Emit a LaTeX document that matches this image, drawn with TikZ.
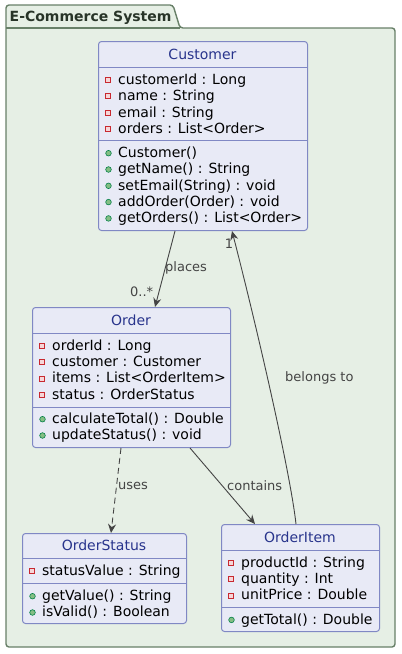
\documentclass[tikz,border=0pt]{standalone}
\usepackage{fontspec}
\setmainfont{DejaVu Sans}
\usetikzlibrary{arrows.meta,calc}
\definecolor{pkgfill}{RGB}{230,239,229}
\definecolor{pkgdraw}{RGB}{104,128,104}
\definecolor{pkgtext}{RGB}{40,52,40}
\definecolor{clsfill}{RGB}{232,234,246}
\definecolor{clsdraw}{RGB}{128,136,196}
\definecolor{clstitle}{RGB}{40,52,140}
\definecolor{privdraw}{RGB}{200,41,48}
\definecolor{privfill}{RGB}{246,214,216}
\definecolor{pubdraw}{RGB}{3,128,72}
\definecolor{pubfill}{RGB}{132,190,132}
\definecolor{edgecol}{RGB}{68,68,68}
\tikzset{
 classbox/.style={draw=clsdraw, fill=clsfill, rounded corners=3pt, line width=1pt, anchor=north west, inner sep=0pt},
 ctitle/.style={text=clstitle, font=\fontsize{14}{16}\selectfont, anchor=base, inner sep=0pt},
 member/.style={font=\fontsize{14}{16}\selectfont, anchor=base west, inner sep=0pt, text=black},
 sepline/.style={draw=clsdraw, line width=1pt},
 privicon/.style={draw=privdraw, fill=privfill, line width=0.8pt},
 pubicon/.style={draw=pubdraw, fill=pubfill, line width=0.6pt},
 edge/.style={draw=edgecol, line width=0.9pt},
 arr/.style={-{Stealth[length=9pt,width=8pt,inset=3pt]}},
 elabel/.style={font=\fontsize{13}{15}\selectfont, text=edgecol, inner sep=0pt},
}
\newcommand\privmem[4]{%
 \draw[privicon] ({#2-12.3},{#3-7}) rectangle ({#2-7.3},{#3-2});
 \node[member] (#1) at (#2,#3) {#4};}
\newcommand\pubmem[4]{%
 \draw[pubicon] ({#2-9.5},{#3-4.3}) circle (2.8pt);
 \node[member] (#1) at (#2,#3) {#4};}
\begin{document}
\begin{tikzpicture}[x=1pt,y=-1pt]
\useasboundingbox (0,0) rectangle (402,654);
% package
\draw[pkgdraw, fill=pkgfill, line width=1.4pt, rounded corners=3pt]
  (6,647) -- (6,5) -- (173,5) -- (180,28) -- (395,28) -- (395,647) -- cycle;
\draw[pkgdraw, line width=1.4pt] (6,28) -- (180,28);
\node[font=\bfseries\fontsize{14}{16}\selectfont, text=pkgtext, anchor=base west, inner sep=0pt] (pkg) at (9.5,21) {E-Commerce System};

% Customer
\node[classbox, minimum width=209pt, minimum height=189pt] (cust) at (98,41) {};
\node[ctitle] (custT) at (202.5,59) {Customer};
\draw[sepline] (98,67) -- (307,67);
\draw[sepline] (98,140) -- (307,140);
\privmem{c1}{118}{84.5}{customerId : Long}
\privmem{c2}{118}{100.8}{name : String}
\privmem{c3}{118}{117.1}{email : String}
\privmem{c4}{118}{133.4}{orders : List<Order>}
\pubmem{c5}{118}{157.5}{Customer()}
\pubmem{c6}{118}{173.8}{getName() : String}
\pubmem{c7}{118}{190.1}{setEmail(String) : void}
\pubmem{c8}{118}{206.4}{addOrder(Order) : void}
\pubmem{c9}{118}{222.7}{getOrders() : List<Order>}

% Order
\node[classbox, minimum width=198pt, minimum height=140pt] (ord) at (32,307) {};
\node[ctitle] (ordT) at (131,325) {Order};
\draw[sepline] (32,333) -- (230,333);
\draw[sepline] (32,407) -- (230,407);
\privmem{o1}{52}{350.3}{orderId : Long}
\privmem{o2}{52}{366.6}{customer : Customer}
\privmem{o3}{52}{382.9}{items : List<OrderItem>}
\privmem{o4}{52}{399.2}{status : OrderStatus}
\pubmem{o5}{52}{423.5}{calculateTotal() : Double}
\pubmem{o6}{52}{439.8}{updateStatus() : void}

% OrderStatus
\node[classbox, minimum width=164pt, minimum height=90pt] (ostat) at (22,533) {};
\node[ctitle] (ostatT) at (104,550) {OrderStatus};
\draw[sepline] (22,558) -- (186,558);
\draw[sepline] (22,583) -- (186,583);
\privmem{s1}{42}{575.3}{statusValue : String}
\pubmem{s2}{42}{600.5}{getValue() : String}
\pubmem{s3}{42}{616.8}{isValid() : Boolean}

% OrderItem
\node[classbox, minimum width=158pt, minimum height=107pt] (oitem) at (221,524) {};
\node[ctitle] (oitemT) at (300,542) {OrderItem};
\draw[sepline] (221,550) -- (379,550);
\draw[sepline] (221,607) -- (379,607);
\privmem{i1}{241}{567.3}{productId : String}
\privmem{i2}{241}{583.6}{quantity : Int}
\privmem{i3}{241}{599.9}{unitPrice : Double}
\pubmem{i4}{241}{624.2}{getTotal() : Double}

% connectors
\draw[edge, arr] ($(cust.south west)+(77,0)$) -- ($(ord.north west)+(123,0)$);
\node[elabel, anchor=west] (lplaces) at (165,268) {places};
\node[elabel, anchor=west] (lmany) at (130,292) {0..*};

\draw[edge, arr, dash pattern=on 6pt off 4pt] ($(ord.south west)+(89,0)$) -- ($(ostat.north west)+(89,0)$);
\node[elabel, anchor=west] (luses) at (118,486) {uses};

\draw[edge, arr] ($(ord.south west)+(158,0)$) -- ($(oitem.north west)+(34,0)$);
\node[elabel, anchor=west] (lcont) at (227,486) {contains};

\draw[edge, arr] ($(oitem.north west)+(75,0)$) .. controls +(-6,-54) and +(23,89) .. ($(cust.south west)+(134,0)$);
\node[elabel] (lone) at (229,244) {1};
\node[elabel, anchor=west] (lbel) at (285,378) {belongs to};
\end{tikzpicture}
\end{document}
